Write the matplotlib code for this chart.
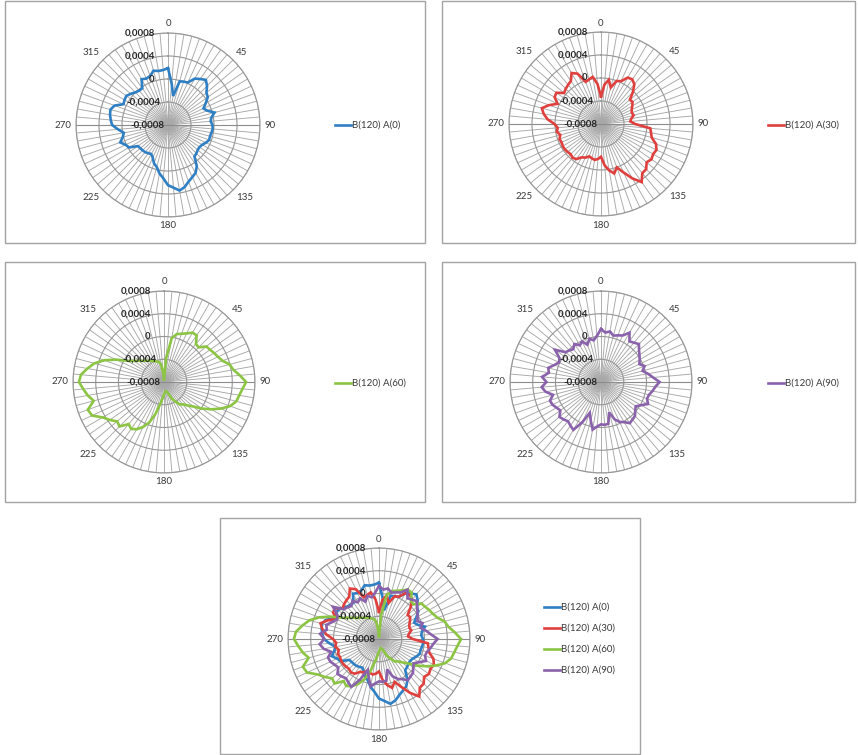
import numpy as np
import matplotlib
matplotlib.use("Agg")
import matplotlib.pyplot as plt
from matplotlib.lines import Line2D
from matplotlib.patches import Rectangle

plt.rcParams['font.family'] = ['Lato', 'DejaVu Sans']

# Direction categories (degrees) and the four B(120) series
angles = list(range(0, 360, 5))
angle_labels = [0, 45, 90, 135, 180, 225, 270, 315]

a0 = [1.89, -0.73, -2.88, -0.15, 0.03, 0.15, 1.31, 1.77, 2.24, 1.60, 0.73, 0.44,
      -0.44, -1.19, -0.73, 0.38, -0.32, -0.55, -0.26, -0.20, -0.32, -0.44, -0.38, -0.73,
      -1.13, -1.31, -1.25, -1.02, -0.84, 0.73, 1.60, 2.00, 2.47, 3.17, 3.58, 2.94,
      2.47, 1.31, 0.55, -0.44, -0.90, -1.72, -2.18, -2.01, -1.83, -1.77, -1.72, -1.60,
      -0.20, 0.15, 0.84, 0.15, -0.20, 0.73, 1.72, 2.00, 2.24, 2.36, 1.89, 0.55,
      0.73, 0.84, 0.44, 0.03, -0.20, -0.20, 1.19, 0.90, 1.08, 1.77, 1.54, 1.60]

a30 = [-3.23, -1.13, -0.20, -1.43, -0.03, 0.20, 1.31, 1.48, 1.02, -0.15, -1.43, -1.31,
       -1.72, -2.12, -2.30, -2.12, -2.65, -2.88, -2.07, 0.61, 0.84, 1.13, 2.18, 2.65,
       2.47, 2.71, 2.36, 3.11, 3.17, 4.33, 2.94, 1.31, 0.03, 0.90, 0.20, -0.79,
       -2.30, -1.89, -1.66, -1.83, -2.01, -1.54, -1.31, -0.55, -0.32, -0.55, -0.44, -0.32,
       -0.32, -0.44, -0.32, -0.67, -0.20, -0.44, 0.09, 1.31, 2.12, 2.65, 1.60, 0.32,
       1.31, 1.48, 0.38, 0.67, 0.90, 1.13, 2.24, 1.66, -0.20, 0.03, 0.32, -1.02]

a60 = [-7.53, -3.81, -0.15, 0.73, 1.02, 1.43, 2.01, 2.01, 0.73, 0.61, 1.72, 1.89,
       2.18, 2.47, 2.94, 3.93, 4.39, 5.38, 6.43, 5.85, 5.44, 5.15, 4.39, 3.05,
       1.60, 0.15, -1.31, -2.18, -2.88, -3.17, -4.10, -4.80, -5.96, -6.25, -6.37, -6.14,
       -5.79, -5.09, -3.99, -2.18, -0.44, 0.73, 1.60, 2.07, 1.66, 3.05, 2.76, 3.64,
       4.45, 5.96, 6.25, 4.80, 5.61, 6.25, 6.95, 6.66, 5.67, 4.68, 3.17, 1.31,
       -0.55, -1.54, -2.18, -2.76, -3.11, -3.46, -3.69, -3.93, -4.16, -4.33, -4.80, -6.25]

a90 = [1.31, 0.73, 1.02, 0.44, 0.73, 1.02, 2.01, 0.73, 1.02, 1.43, 0.73, 0.26,
       -0.15, -0.55, 0.15, -0.44, 0.38, 1.19, 2.30, 1.60, 1.19, 0.73, 0.61, 1.13,
       0.15, -0.55, -0.15, 0.44, 0.61, 0.84, 0.15, -0.26, -1.02, -2.47, -0.55, -0.44,
       -0.55, -0.15, 0.50, -1.02, -2.24, -0.15, 1.72, 1.37, 1.02, 1.31, 1.54, 0.73,
       1.02, 1.43, 1.54, 0.73, 1.89, 2.47, 1.60, 2.41, 1.31, 1.60, 0.73, 0.15,
       0.44, 1.89, 0.15, -0.15, -0.44, 0.15, -0.55, -0.15, -1.02, -0.15, -0.55, 0.15]

series_names = ['B(120) A(0)', 'B(120) A(30)', 'B(120) A(60)', 'B(120) A(90)']
series_values = [a0, a30, a60, a90]
series_colors = ['#2f7fc4', '#e0403d', '#8cc443', '#8a62ac']

r_ticks = [-0.0008, -0.0004, 0.0, 0.0004, 0.0008]
r_tick_labels = ['-0,0008', '-0,0004', '0', '0,0004', '0,0008']
r_label_offsets_px = [4, 8, 14, 13, 13]

W, H = 858, 755
fig = plt.figure(figsize=(W / 100, H / 100), dpi=100)
fig.patch.set_facecolor('white')

px = 0.72  # points per pixel at 100 dpi


def frame(x0, y0, x1, y1):
    fig.add_artist(Rectangle((x0 / W, 1 - y1 / H), (x1 - x0) / W, (y1 - y0) / H,
                             transform=fig.transFigure, fill=False,
                             edgecolor='#a3a3a3', lw=1.0))


def radar(cx, cy, R, idx_list):
    ax = fig.add_axes([(cx - R) / W, 1 - (cy + R) / H, 2 * R / W, 2 * R / H],
                      projection='polar')
    ax.set_theta_zero_location('N')
    ax.set_theta_direction(-1)
    ax.set_ylim(-0.0008, 0.0008)
    ax.set_xticks(np.deg2rad(angles))
    ax.set_xticklabels([])
    ax.set_yticks(r_ticks[1:])
    ax.set_yticklabels([])
    ax.tick_params(length=0)
    ax.xaxis.grid(True, color='#a8a8a8', lw=0.65)
    ax.yaxis.grid(True, color='#969696', lw=0.8)
    ax.spines['polar'].set_color('#969696')
    ax.spines['polar'].set_linewidth(0.8)
    # the horizontal axis through the centre reads a little darker
    ax.plot(np.deg2rad([90, 90]), [-0.0008, 0.0008], color='#8c8c8c', lw=0.8, zorder=2)
    ax.plot(np.deg2rad([270, 270]), [-0.0008, 0.0008], color='#8c8c8c', lw=0.8, zorder=2)

    th = np.deg2rad(angles + [angles[0]])
    for i in idx_list:
        vals = np.array(series_values[i] + [series_values[i][0]]) * 1e-4
        ax.plot(th, vals, color=series_colors[i], lw=1.9, solid_joinstyle='miter',
                zorder=3)

    # category labels around the outside
    gap = 4.5 * px
    for a in angle_labels:
        t = np.deg2rad(a)
        s, c = np.sin(t), np.cos(t)
        ha = 'left' if s > 0.3 else ('right' if s < -0.3 else 'center')
        va = 'bottom' if c > 0.3 else ('top' if c < -0.3 else 'center')
        ax.annotate(str(a), xy=(t, 0.0008), xytext=(gap * s, gap * c),
                    textcoords='offset points', ha=ha, va=va, fontsize=7,
                    color='#3a3a3a', annotation_clip=False)

    # value axis labels along the 0 spoke
    for v, lab, off in zip(r_ticks, r_tick_labels, r_label_offsets_px):
        ax.annotate(lab, xy=(0, v), xytext=(-off * px, 0), textcoords='offset points',
                    ha='right', va='center', fontsize=7, fontweight='bold',
                    color='#262626', annotation_clip=False, zorder=4)
    return ax


def legend(x, y, idx_list, step=21):
    for k, i in enumerate(idx_list):
        yy = 1 - (y + k * step) / H
        fig.add_artist(Line2D([x / W, (x + 16) / W], [yy, yy], transform=fig.transFigure,
                              color=series_colors[i], lw=1.9))
        fig.text((x + 17) / W, yy, series_names[i], fontsize=7, color='#3a3a3a',
                 ha='left', va='center')


frame(5, 1, 425, 243)
frame(442, 1, 855, 243)
frame(5, 262, 425, 502)
frame(442, 262, 855, 502)
frame(220, 518, 640, 754)

radar(168, 125, 92, [0])
radar(601, 124, 92, [1])
radar(164, 382, 91, [2])
radar(601, 382, 91, [3])
radar(379, 639, 91, [0, 1, 2, 3])

legend(335, 125, [0])
legend(768, 125, [1])
legend(335, 383, [2])
legend(768, 383, [3])
legend(544, 607, [0, 1, 2, 3])

assert all(len(s) == len(angles) for s in series_values)
fig.savefig('out.png', dpi=100, facecolor='white')
